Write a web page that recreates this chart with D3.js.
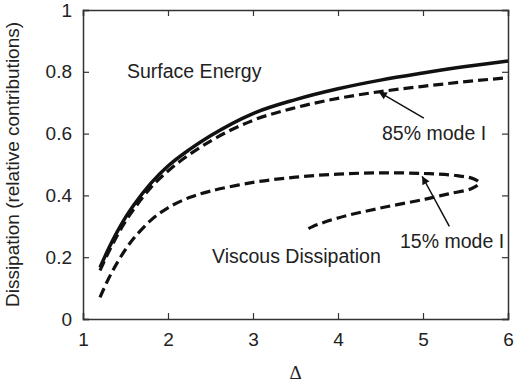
<!DOCTYPE html>
<html>
<head>
<meta charset="utf-8">
<script src="https://cdn.jsdelivr.net/npm/d3@7"></script>
<style>
  body { margin: 0; background: #fff; }
  text { font-family: "Liberation Sans", Arial, sans-serif; fill: #222; }
</style>
</head>
<body>
<div id="chart"></div>
<script>
// Dimensiones
var width = 514;
var height = 385;
var margin = { top: 10, right: 5, bottom: 66, left: 83 };

// Datos
var xTicks = [1, 2, 3, 4, 5, 6];
var yTicks = [0, 0.2, 0.4, 0.6, 0.8, 1];

// Surface Energy (linea continua)
var surfaceX = [1.2, 1.3, 1.4, 1.5, 1.6, 1.8, 2.0, 2.25, 2.5, 3, 3.5, 4, 4.5, 5, 5.5, 6];
var surfaceY = [0.167, 0.227, 0.281, 0.329, 0.37, 0.44, 0.495, 0.548, 0.593, 0.665, 0.71, 0.745, 0.773, 0.796, 0.817, 0.835];

// 85% mode I (discontinua)
var mode85X = [1.2, 1.3, 1.4, 1.5, 1.6, 1.8, 2.0, 2.25, 2.5, 3, 3.5, 4, 4.5, 5, 5.5, 6];
var mode85Y = [0.157, 0.216, 0.269, 0.316, 0.356, 0.426, 0.479, 0.532, 0.576, 0.643, 0.684, 0.714, 0.736, 0.753, 0.768, 0.781];

// 15% mode I (discontinua, con vuelta)
var mode15X = [1.2, 1.3, 1.4, 1.5, 1.6, 1.8, 2.0, 2.25, 2.5, 3, 3.5, 4, 4.5, 5, 5.4, 5.6, 5.66, 5.58, 5.3, 5.03, 4.48, 4.0, 3.7, 3.64];
var mode15Y = [0.07, 0.13, 0.181, 0.225, 0.262, 0.32, 0.36, 0.393, 0.414, 0.442, 0.459, 0.469, 0.473, 0.471, 0.464, 0.453, 0.44, 0.423, 0.405, 0.388, 0.358, 0.327, 0.299, 0.29];

var svg = d3.select("#chart")
  .append("svg")
  .attr("width", width)
  .attr("height", height);

var x = d3.scaleLinear().domain([1, 6]).range([margin.left, width - margin.right - 1]);
var y = d3.scaleLinear().domain([0, 1]).range([height - margin.bottom, margin.top]);

// Marcador de flecha
svg.append("defs").append("marker")
  .attr("id", "arrow")
  .attr("viewBox", "0 0 10 10")
  .attr("refX", 10)
  .attr("refY", 5)
  .attr("markerWidth", 10)
  .attr("markerHeight", 8)
  .attr("markerUnits", "userSpaceOnUse")
  .attr("orient", "auto")
  .append("path")
  .attr("d", "M0,0 L10,5 L0,10 z")
  .attr("fill", "#111");

// Ejes con marcas hacia dentro en los cuatro lados
var tickLen = 6;
svg.append("g")
  .attr("transform", "translate(0," + y(0) + ")")
  .call(d3.axisBottom(x).tickValues(xTicks).tickSize(-tickLen).tickPadding(14).tickFormat(d3.format("d")))
  .call(styleAxis);
svg.append("g")
  .attr("transform", "translate(0," + y(1) + ")")
  .call(d3.axisTop(x).tickValues(xTicks).tickSize(-tickLen).tickFormat(""))
  .call(styleAxis);
svg.append("g")
  .attr("transform", "translate(" + x(1) + ",0)")
  .call(d3.axisLeft(y).tickValues(yTicks).tickSize(-tickLen).tickPadding(11).tickFormat(function(d) { return d === 0 || d === 1 ? d3.format("d")(d) : d3.format(".1f")(d); }))
  .call(styleAxis);
svg.append("g")
  .attr("transform", "translate(" + x(6) + ",0)")
  .call(d3.axisRight(y).tickValues(yTicks).tickSize(-tickLen).tickFormat(""))
  .call(styleAxis);

function styleAxis(g) {
  g.select(".domain").attr("stroke", "#333").attr("stroke-width", 1.5);
  g.selectAll(".tick line").attr("stroke", "#333").attr("stroke-width", 1.2);
  g.selectAll(".tick text")
    .attr("fill", "#222")
    .style("font-family", "'Liberation Sans', Arial, sans-serif")
    .style("font-size", "19px");
}

// Curvas
var lineSuave = d3.line()
  .x(function(d) { return x(d[0]); })
  .y(function(d) { return y(d[1]); })
  .curve(d3.curveMonotoneX);

var lineBucle = d3.line()
  .x(function(d) { return x(d[0]); })
  .y(function(d) { return y(d[1]); })
  .curve(d3.curveCatmullRom.alpha(0.5));

function pares(xs, ys) {
  return xs.map(function(v, i) { return [v, ys[i]]; });
}

svg.append("path")
  .datum(pares(surfaceX, surfaceY))
  .attr("d", lineSuave)
  .attr("fill", "none")
  .attr("stroke", "#111")
  .attr("stroke-width", 3.5);

svg.append("path")
  .datum(pares(mode85X, mode85Y))
  .attr("d", lineSuave)
  .attr("fill", "none")
  .attr("stroke", "#111")
  .attr("stroke-width", 3.2)
  .attr("stroke-dasharray", "10,5");

svg.append("path")
  .datum(pares(mode15X, mode15Y))
  .attr("d", lineBucle)
  .attr("fill", "none")
  .attr("stroke", "#111")
  .attr("stroke-width", 3.2)
  .attr("stroke-dasharray", "10,5");

// Flechas de anotacion
svg.append("line")
  .attr("x1", x(5.01)).attr("y1", y(0.65))
  .attr("x2", x(4.48)).attr("y2", y(0.735))
  .attr("stroke", "#111").attr("stroke-width", 1.5)
  .attr("marker-end", "url(#arrow)");

svg.append("line")
  .attr("x1", x(5.31)).attr("y1", y(0.30))
  .attr("x2", x(4.99)).attr("y2", y(0.462))
  .attr("stroke", "#111").attr("stroke-width", 1.5)
  .attr("marker-end", "url(#arrow)");

// Etiquetas
svg.append("text").attr("x", 127).attr("y", 78).style("font-size", "19.5px").text("Surface Energy");
svg.append("text").attr("x", 382).attr("y", 140).style("font-size", "19.5px").text("85% mode I");
svg.append("text").attr("x", 400).attr("y", 248).style("font-size", "19.5px").text("15% mode I");
svg.append("text").attr("x", 212).attr("y", 263).style("font-size", "19.5px").text("Viscous Dissipation");

// Titulos de ejes
svg.append("text")
  .attr("transform", "translate(19," + y(0.5) + ") rotate(-90)")
  .attr("text-anchor", "middle")
  .style("font-size", "19px")
  .text("Dissipation (relative contributions)");

svg.append("text")
  .attr("x", x(3.5))
  .attr("y", 379)
  .attr("text-anchor", "middle")
  .style("font-family", "'Liberation Serif', 'Times New Roman', serif")
  .style("font-size", "19px")
  .text("Δ");
</script>
</body>
</html>
